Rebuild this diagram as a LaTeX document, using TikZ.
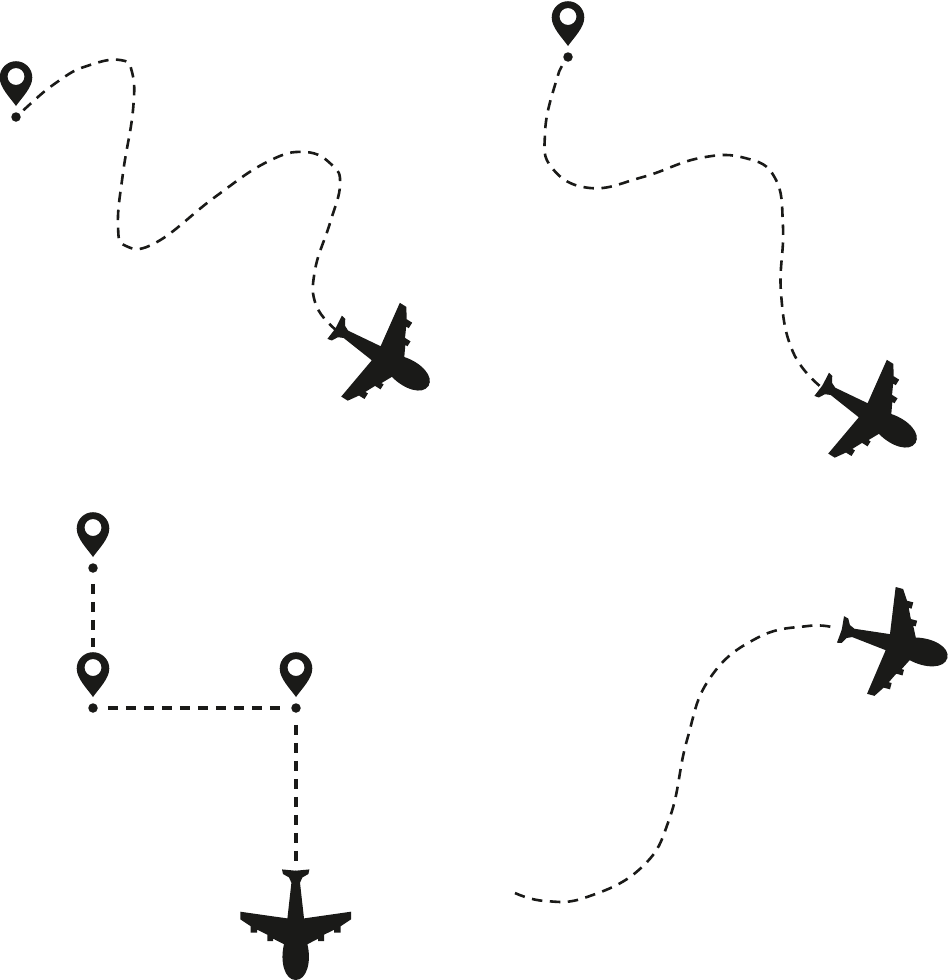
\documentclass[tikz,border=0pt]{standalone}
\usepackage{tikz}
\usepackage{xcolor}
\definecolor{inkblack}{HTML}{1A1A18}
\tikzset{
  route/.style={inkblack,line width=2.6pt,dash pattern=on 10.5pt off 7.5pt},
  straight/.style={route,line width=3.1pt},
  stopdot/.style={circle,fill=inkblack,inner sep=0pt,minimum size=9.5pt},
  pin/.pic={
    \fill[inkblack,even odd rule] (0,28.5) .. controls (-6,20) and (-16.3,10) .. (-16.3,0)
      arc[start angle=180,end angle=360,radius=16.3] .. controls (16.3,10) and (6,20) .. (0,28.5) -- cycle
      (0,-1) circle[radius=8.5];
  },
  plane/.pic={
    \foreach \side in {1,-1}
    {  \fill[inkblack,xscale=\side] (-.4,-51) -- (0,-51) -- (13.7,-52.3) -- (12.7,-47.7) -- (6.7,-44.3) -- (4.3,-39)
        -- (8.3,-3.3) -- (55.3,-10) -- (55.3,-2.3) -- (45,4.5) -- (45,11) -- (38.5,11) -- (38.5,8)
        -- (28.3,13) -- (28.3,19.5) -- (22.5,19.5) -- (22.5,17) -- (11.7,22.5)
        .. controls (16,40) and (11,58.3) .. (0,58.3) -- (-.4,58.3) -- cycle;}
  }
}
\begin{document}
\begin{tikzpicture}[x=1pt,y=-1pt]
\useasboundingbox (0,0) rectangle (948,980);
% stops with their pins
  \foreach \stopname/\posx/\posy in {one/16/117,two/568/57,three/93/568,four/93/708,five/296/708}
  {  \node [stopdot] (\stopname) at (\posx,\posy) {};
     \pic at (\posx,\posy-39.5) {pin};}
% planes
  \foreach \planename/\posx/\posy/\ang in {north/379/355/58,east/866/412/58,far/891/643/75,south/295.7/921.7/0}
  {  \coordinate (\planename) at (\posx,\posy);
     \pic [rotate=\ang] at (\planename) {plane};}
\coordinate (northtail) at (336,330);
\coordinate (easttail) at (821,387);
\coordinate (fartail) at (835,628);
\coordinate (southtail) at (296,868);
\coordinate (loose) at (515,893);
\coordinate (fourtop) at (93,647);
% routes
\draw [route,shorten <=10pt] plot [smooth,tension=.75] coordinates {(one) (60,80) (90,65) (120,60) (132,72) (133,110) (123,173) (118,225) (126,246) (157,242) (215,197) (267,162) (305,152) (332,165) (340,185) (330,223) (315,270) (316,305) (northtail)};
\draw [route,shorten <=11pt] plot [smooth,tension=.75] coordinates {(two) (555,85) (545,133) (552,168) (590,188) (643,177) (700,158) (745,158) (775,178) (783,227) (781,293) (793,352) (easttail)};
\draw [route] plot [smooth,tension=.75] coordinates {(loose) (545,901) (587,897) (642,867) (670,817) (687,740) (710,678) (757,638) (808,626) (fartail)};
\draw [straight,shorten <=11pt] (three) -- (fourtop);
\draw [straight,shorten <=10pt,shorten >=11pt] (four) -- (five);
\draw [straight,shorten <=12pt] (five) -- (southtail);
\end{tikzpicture}
\end{document}
